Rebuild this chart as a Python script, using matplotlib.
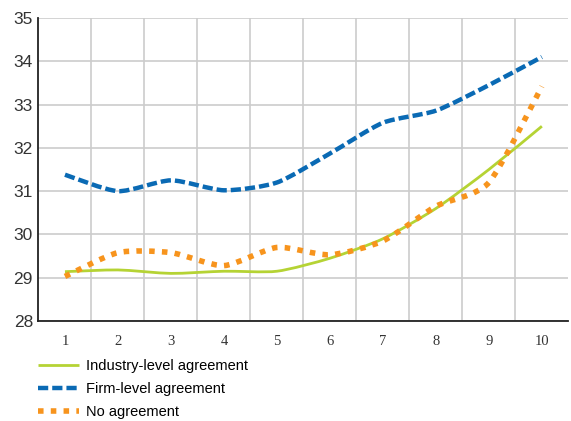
import numpy as np
import matplotlib.pyplot as plt
from matplotlib.path import Path
from matplotlib.patches import PathPatch
from matplotlib.lines import Line2D

years = [1, 2, 3, 4, 5, 6, 7, 8, 9, 10]
industry = [29.14, 29.18, 29.10, 29.15, 29.15, 29.45, 29.90, 30.60, 31.50, 32.50]
firm = [31.38, 31.00, 31.25, 31.02, 31.20, 31.87, 32.58, 32.86, 33.45, 34.10]
no_agree = [29.03, 29.58, 29.58, 29.28, 29.70, 29.53, 29.85, 30.65, 31.20, 33.42]

labels = ["Industry-level agreement", "Firm-level agreement", "No agreement"]
colors = ["#b5d334", "#0a6ab4", "#f7941d"]

NARROW = ["Liberation Sans Narrow", "Liberation Sans", "DejaVu Sans"]


def smooth_path(xs, ys, t=0.35):
    # cubic bezier segments through the data points (cardinal spline style)
    xs = np.asarray(xs, float)
    ys = np.asarray(ys, float)
    n = len(xs)
    verts = [(xs[0], ys[0])]
    codes = [Path.MOVETO]
    for i in range(n - 1):
        p0 = (xs[max(i - 1, 0)], ys[max(i - 1, 0)])
        p1 = (xs[i], ys[i])
        p2 = (xs[i + 1], ys[i + 1])
        p3 = (xs[min(i + 2, n - 1)], ys[min(i + 2, n - 1)])
        c1 = (p1[0] + (p2[0] - p0[0]) * t / 3, p1[1] + (p2[1] - p0[1]) * t / 3)
        c2 = (p2[0] - (p3[0] - p1[0]) * t / 3, p2[1] - (p3[1] - p1[1]) * t / 3)
        verts += [c1, c2, p2]
        codes += [Path.CURVE4] * 3
    return Path(verts, codes)


fig = plt.figure(figsize=(5.71, 4.21), dpi=100)
ax = fig.add_axes([0.0674, 0.2375, 0.928, 0.7197])

styles = [
    dict(lw=2.0, ls="-"),
    dict(lw=3.2, ls=(0, (2.3, 0.9))),
    dict(lw=4.0, ls=(0, (1.0, 1.3))),
]

handles = []
for vals, lab, col, st in zip([industry, firm, no_agree], labels, colors, styles):
    patch = PathPatch(smooth_path(years, vals), facecolor="none", edgecolor=col,
                      lw=st["lw"], linestyle=st["ls"], capstyle="butt", zorder=3)
    ax.add_patch(patch)
    handles.append(Line2D([], [], color=col, lw=st["lw"], ls=st["ls"],
                          solid_capstyle="butt", dash_capstyle="butt"))

ax.set_xlim(0.5, 10.5)
ax.set_ylim(28, 35)
ax.set_xticks(years)
ax.set_xticks(np.arange(1.5, 10.5, 1), minor=True)
ax.set_yticks(range(28, 36))
ax.grid(False)
ax.grid(True, which="minor", axis="x", color="#cccccc", lw=1.2)
ax.grid(True, which="major", axis="y", color="#cccccc", lw=1.2)
ax.set_axisbelow(True)
ax.tick_params(which="both", length=0)
ax.tick_params(axis="y", pad=4)
ax.tick_params(axis="x", pad=10)
for s in ["top", "right"]:
    ax.spines[s].set_visible(False)
for s in ["left", "bottom"]:
    ax.spines[s].set_color("#222222")
    ax.spines[s].set_linewidth(1.3)

for lbl in ax.get_yticklabels():
    lbl.set_family(NARROW)
    lbl.set_fontsize(12.5)
    lbl.set_color("#333333")
for lbl in ax.get_xticklabels():
    lbl.set_family(["Liberation Serif", "DejaVu Serif"])
    lbl.set_fontsize(10.5)
    lbl.set_color("#333333")

fig.legend(handles, labels, loc="upper left", bbox_to_anchor=(0.066, 0.148),
           frameon=False, handlelength=2.8, handletextpad=0.5, labelspacing=0.62,
           borderaxespad=0, borderpad=0,
           prop={"family": NARROW, "size": 10.5})

fig.savefig("out.png", dpi=100)
